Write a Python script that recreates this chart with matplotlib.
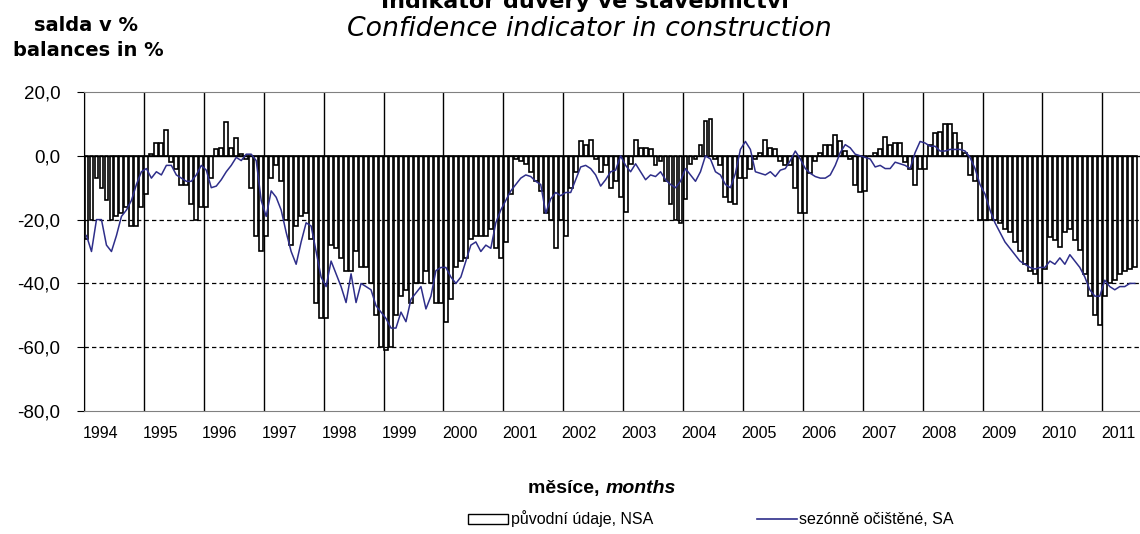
import matplotlib
matplotlib.use('Agg')
import matplotlib.pyplot as plt
import numpy as np
from matplotlib.patches import Patch
from matplotlib.lines import Line2D

plt.rcParams['font.family'] = ['Liberation Sans', 'DejaVu Sans']

# monthly data from Jan 1994 (saldo in %)
first_year = 1994
nsa = [
    -26, -20, -7, -10, -14, -20, -19, -18, -16, -22, -22, -16,          # 1994
    -12, 0.5, 4, 4, 8, -2, -4, -9, -9, -15, -20, -16,                  # 1995
    -16, -7, 2, 2.5, 10.5, 2.5, 5.5, 0.5, -1, -10, -25, -30,           # 1996
    -25, -7, -3, -8, -20, -28, -22, -19, -18, -26, -46, -51,           # 1997
    -51, -28, -29, -32, -36, -36, -30, -35, -35, -40, -50, -60,        # 1998
    -61, -60, -50, -44, -42, -46, -40, -40, -36, -40, -46, -46,        # 1999
    -52, -45, -35, -33, -32, -26, -25, -25, -25, -23, -29, -32,        # 2000
    -27, -12, -1, -1.5, -2.5, -5, -8, -11, -18, -20, -29, -20,         # 2001
    -25, -10, -5, 4.5, 3.5, 5, -1, -5, -3, -10, -8, -13,               # 2002
    -17.5, -2.5, 5, 2.5, 2.5, 2, -3, -1.5, -8, -15, -20, -21,          # 2003
    -13.5, -2.5, -1, 3.5, 11, 11.5, -1, -3, -13, -14.5, -15, -7,       # 2004
    -7, -4, -1, 1, 5, 2.5, 2, -1.5, -3, -3, -10, -18,                  # 2005
    -18, -5.5, -1.5, 1, 3.5, 3.5, 6.5, 4.5, 1.5, -1, -9, -11.5,        # 2006
    -11, 0, 1, 2, 6, 3.5, 4, 4, -2, -4, -9, -4,                        # 2007
    -4, 3.5, 7, 7.5, 10, 10, 7, 4, 1, -6, -8, -20,                     # 2008
    -20, -20, -20, -21, -23, -24, -27, -30, -34, -36, -37, -40,        # 2009
    -35.5, -25.5, -26.5, -28.5, -24, -23, -26.5, -29.5, -37, -44, -50, -53,  # 2010
    -44, -40, -39, -37, -36, -35.5, -35,                               # 2011
]
sa = [
    -25, -30, -20, -20, -28, -30, -25, -19, -17, -14, -9, -5,
    -4, -7, -5, -6, -3, -3, -6, -7, -8, -8, -6, -3,
    -4.5, -10, -9.5, -7.5, -5, -3, -0.5, -1.5, 0.5, 0.5, -1.5, -14,
    -19, -11, -13, -17, -24, -30, -34, -27, -21, -22, -30, -38,
    -41, -33, -37, -41, -46, -37, -46, -40, -41, -42, -47, -49,
    -51, -54, -54, -49, -52, -45, -43, -41, -48, -44, -36, -35,
    -35, -38, -40, -38, -33, -28, -27, -30, -28, -29, -21, -17,
    -14, -11, -9, -7, -6, -6.5, -8, -9, -18, -13.5, -11.5, -12.5,
    -11.5, -11.5, -7.5, -3.5, -3, -4, -6, -9.5, -7.5, -5, -4.5, 0,
    -3, -5, -2.5, -5, -7.5, -6, -6.5, -5, -7.5, -9, -10, -8,
    -4, -6, -8, -5, 0, -1, -5, -6, -9, -10, -5.5, 2,
    4.5, 2, -5, -5.5, -6, -5, -6.5, -4.5, -4, -1.5, 1.5, -1,
    -4, -5.5, -6.5, -7, -7, -6, -3, 1, 3.5, 2.5, 0.5, 0,
    -0.5, -1, -3.5, -3, -4, -4, -2, -2.5, -3, -4, 1, 4.5,
    4, 3, 3, 1.5, 1.5, 2, 2, 2, 1.5, -0.5, -4, -9,
    -12, -17, -21, -24, -27, -29, -31, -33, -34, -35, -35.5, -35,
    -35, -33, -34, -32, -34, -31, -33, -35, -38, -42, -44, -44,
    -39, -41, -42, -41, -41, -40, -40,
]
years = list(range(1994, 2012))
yticks = [20, 0, -20, -40, -60, -80]
ytick_labels = ['20,0', '0,0', '-20,0', '-40,0', '-60,0', '-80,0']

months = np.arange(len(nsa))
x = first_year + (months + 0.5) / 12

W, H = 1140, 534
fig = plt.figure(figsize=(W / 100, H / 100), dpi=100)
ax = fig.add_axes([84 / W, 1 - 411 / H, (W - 84) / W, (411 - 92) / H])

for yr in years:
    ax.axvline(yr, color='black', lw=1, zorder=1)
ax.bar(x, nsa, width=0.78 / 12, color='white', edgecolor='black', linewidth=1.2, zorder=2)
for v in [-20, -40, -60]:
    ax.axhline(v, color='black', lw=0.9, ls=(0, (3.5, 2.5)), zorder=3)
ax.axhline(0, color='black', lw=1, zorder=3)
ax.plot(x, sa, color='#2e2e8a', lw=1.1, zorder=4)

ax.set_xlim(1994, 1994 + (W - 84) / 59.9)
ax.set_ylim(-80, 20)
ax.set_yticks(yticks, ytick_labels)
ax.set_xticks(np.array(years) + 0.27, [str(y) for y in years])
ax.tick_params(axis='y', direction='out', length=5, labelsize=13.5, pad=12)
ax.tick_params(axis='x', length=0, labelsize=11.5, pad=11)
ax.spines['right'].set_visible(False)
ax.spines['top'].set_color('#808080')
ax.spines['bottom'].set_color('#808080')
ax.spines['left'].set_color('black')

fig.text(0.513, 0.985, 'Indikátor důvěry ve stavebnictví', ha='center', va='baseline',
         fontsize=16, fontweight='bold', family='DejaVu Sans')
fig.text(0.517, 0.933, 'Confidence indicator in construction', ha='center', va='baseline',
         fontsize=19.3, style='italic', family='DejaVu Sans')
fig.text(86 / W, 1 - 31 / H, 'salda v %', ha='center', va='baseline', fontsize=14,
         fontweight='bold', family='DejaVu Sans')
fig.text(88 / W, 1 - 56 / H, 'balances in %', ha='center', va='baseline', fontsize=14,
         fontweight='bold', family='DejaVu Sans')

fig.text(0.531, 1 - 493 / H, 'měsíce, ', ha='right', va='baseline', fontsize=14, fontweight='bold')
fig.text(0.531, 1 - 493 / H, 'months', ha='left', va='baseline', fontsize=14, fontweight='bold',
         style='italic')

handles = [Patch(facecolor='white', edgecolor='black', linewidth=1),
           Line2D([0], [0], color='#2e2e8a', lw=1.2)]
fig.legend(handles, ['původní údaje, NSA', 'sezónně očištěné, SA'], loc='center',
           bbox_to_anchor=(711 / W, 1 - 519 / H), ncol=2, frameon=False, fontsize=11.5,
           handlelength=2.5, handleheight=0.6, handletextpad=0.15, columnspacing=6.5)

fig.savefig('out.png', dpi=100)
